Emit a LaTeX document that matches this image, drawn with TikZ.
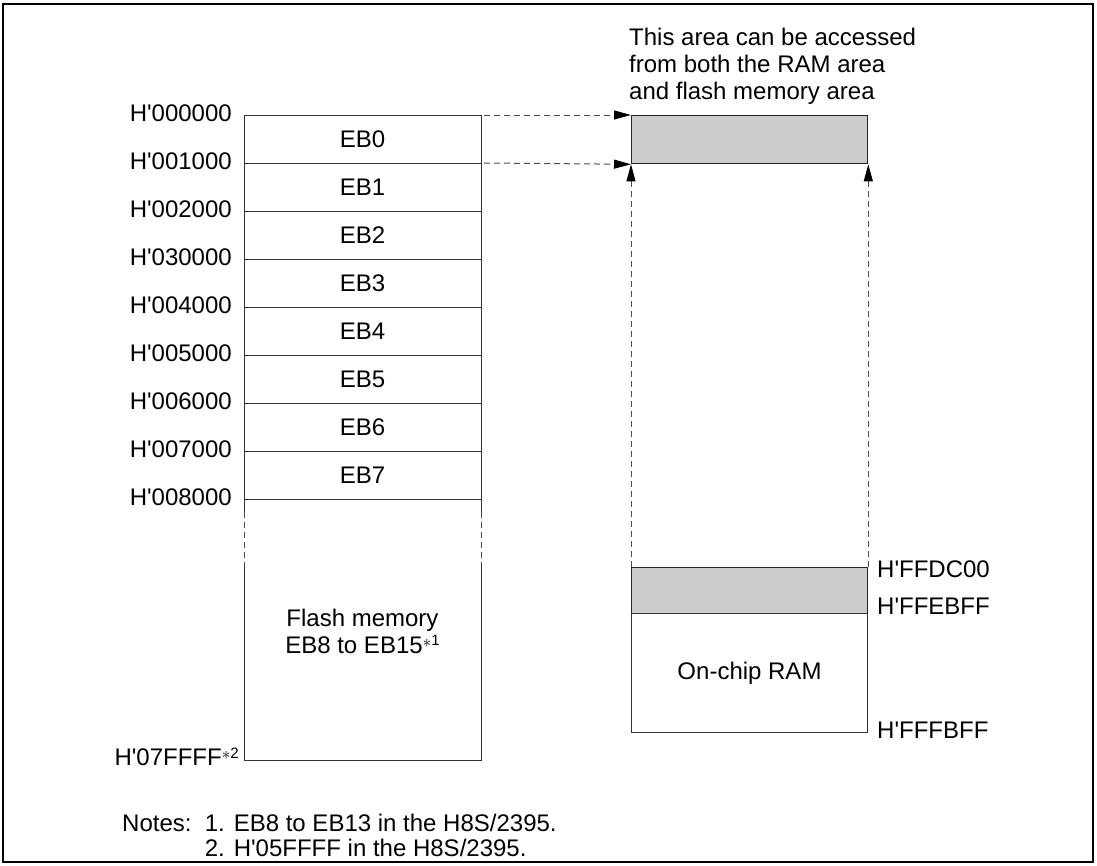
\documentclass[tikz,border=0pt]{standalone}
\usepackage{fontspec}
\setmainfont{Liberation Sans}
\usetikzlibrary{arrows.meta}
\newcommand\q{\textquotesingle}
\newcommand\fnmark[1]{\raisebox{0.25em}{\fontsize{16}{16}\selectfont$\ast$}\raisebox{0.3em}{\fontsize{15}{15}\selectfont #1}}
\begin{document}
\begin{tikzpicture}[x=1pt,y=-1pt,
  lbl/.style={font=\fontsize{24}{27}\selectfont, inner sep=0pt},
  addr/.style={lbl, anchor=east},
  raddr/.style={lbl, anchor=west},
  blk/.style={draw=black!80, line width=1pt},
  shade/.style={draw=black!85, line width=1.3pt, fill=black!20},
  dasharr/.style={draw=black!70, line width=1pt, dash pattern=on 6pt off 4pt, -{Triangle[length=17pt,width=9pt,black]}},
  vdash/.style={draw=black!70, line width=1pt, dash pattern=on 6pt off 4pt}]
\useasboundingbox (0,0) rectangle (1097,865);
\draw[line width=1.5pt] (3,4) rectangle (1093,862);

% left block rows
\foreach \i/\y in {0/115,1/163,2/211,3/259,4/307,5/355,6/403,7/451,8/499} {
  \coordinate (L\i) at (244,\y);
  \coordinate (R\i) at (481,\y);
  \draw[blk] (L\i) -- (R\i);
}
\draw[blk] (L0) -- (244,512);
\draw[blk] (R0) -- (481,512);
\draw[vdash] (244,512) -- (244,565);
\draw[vdash] (481,512) -- (481,565);
\draw[blk] (244,565) -- (244,760) -- (481,760) -- (481,565);

\foreach \i/\t in {0/EB0,1/EB1,2/EB2,3/EB3,4/EB4,5/EB5,6/EB6,7/EB7} {
  \node[lbl] (eb\i) at (362.5,{139+48*\i}) {\t};
}
\foreach \i/\t in {0/000000,1/001000,2/002000,3/030000,4/004000,5/005000,6/006000,7/007000,8/008000} {
  \node[addr] (a\i) at ([xshift=-12pt,yshift=2pt]L\i) {H\q\t};
}
\node[lbl, align=center] (flash) at (362.5,631) {Flash memory\\EB8 to EB15\fnmark{1}};
\node[addr] (aend) at (239,757) {H\q 07FFFF\fnmark{2}};

% right shaded area (top)
\node[shade, minimum width=236pt, minimum height=48pt, inner sep=0pt, anchor=north west] (acc) at (631,115) {};
\node[lbl, anchor=north west, align=left] (note) at (629,28) {This area can be accessed\\from both the RAM area\\and flash memory area};

\draw[dasharr] ([xshift=3pt]R0) -- (acc.north west);
\draw[dasharr] ([xshift=3pt]R1) -- (acc.south west);

% on-chip RAM
\node[shade, minimum width=236pt, minimum height=46pt, inner sep=0pt, anchor=north west] (ramsh) at (631,567) {};
\node[blk, minimum width=236pt, minimum height=119pt, inner sep=0pt, anchor=north west] (ram) at (631,613) {};
\node[lbl] (ramt) at (ram.center) {On-chip RAM};
\draw[dasharr] (ramsh.north west) -- (acc.south west);
\draw[dasharr] (ramsh.north east) -- (acc.south east);

\node[raddr] (r1) at (877,569) {H\q FFDC00};
\node[raddr] (r2) at (877,606) {H\q FFEBFF};
\node[raddr] (r3) at (877,730) {H\q FFFBFF};

% notes
\node[lbl, anchor=west] (n1) at (122,823) {Notes:\ \ 1. EB8 to EB13 in the H8S/2395.};
\node[lbl, anchor=west] (n2) at (122,848) {\phantom{Notes:\ \ }2. H\q 05FFFF in the H8S/2395.};
\end{tikzpicture}
\end{document}
